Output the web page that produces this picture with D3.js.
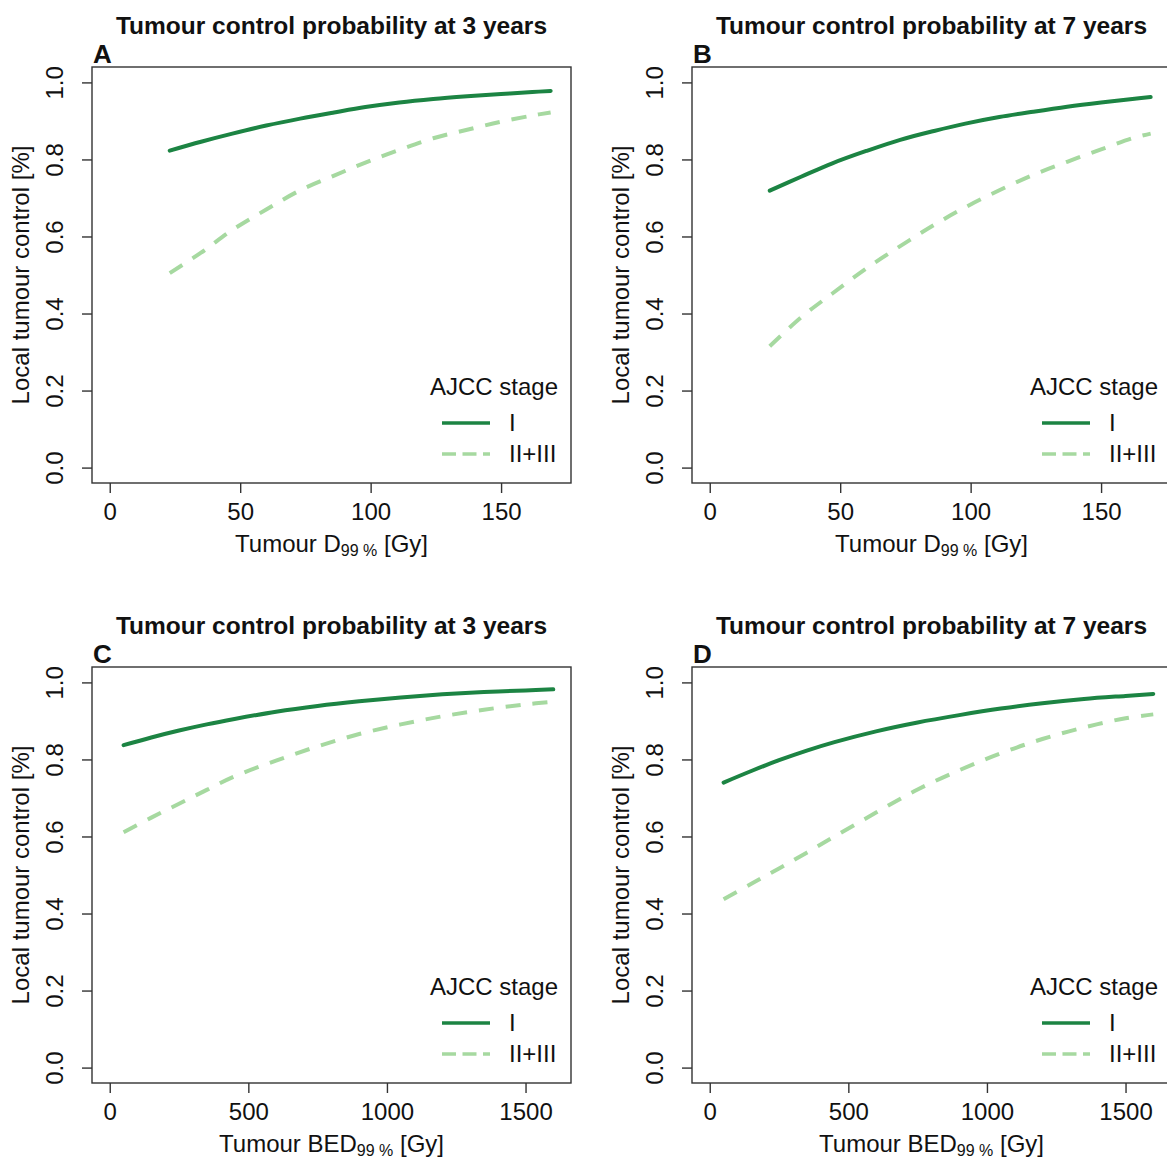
<!DOCTYPE html>
<html>
<head>
<meta charset="utf-8">
<script src="https://cdn.jsdelivr.net/npm/d3@7"></script>
<style>
body { margin: 0; background: #fff; }
svg text { font-family: "Liberation Sans", Arial, sans-serif; fill: #111; }
</style>
</head>
<body>
<script>
var doseX = [23, 35, 47, 60, 73, 86, 98, 111, 124, 137, 150, 162, 169];
var bedX = [50, 150, 250, 350, 450, 600, 750, 900, 1050, 1200, 1350, 1500, 1600];

// panel A: D99, 3 years
var doseStageI_3y   = [0.823, 0.846, 0.867, 0.888, 0.906, 0.922, 0.936, 0.948, 0.957, 0.964, 0.970, 0.975, 0.978];
var doseStageII_3y  = [0.505, 0.558, 0.617, 0.670, 0.720, 0.758, 0.792, 0.825, 0.855, 0.877, 0.898, 0.914, 0.922];
// panel B: D99, 7 years
var doseStageI_7y   = [0.719, 0.755, 0.790, 0.822, 0.851, 0.874, 0.893, 0.910, 0.924, 0.937, 0.948, 0.957, 0.962];
var doseStageII_7y  = [0.315, 0.390, 0.452, 0.517, 0.575, 0.630, 0.676, 0.720, 0.760, 0.794, 0.826, 0.855, 0.867];
// panel C: BED99, 3 years
var bedStageI_3y    = [0.837, 0.857, 0.875, 0.891, 0.905, 0.924, 0.939, 0.951, 0.961, 0.969, 0.975, 0.979, 0.982];
var bedStageII_3y   = [0.611, 0.649, 0.685, 0.721, 0.756, 0.797, 0.834, 0.866, 0.891, 0.912, 0.929, 0.943, 0.950];
// panel D: BED99, 7 years
var bedStageI_7y    = [0.740, 0.770, 0.798, 0.823, 0.845, 0.873, 0.896, 0.915, 0.932, 0.946, 0.957, 0.965, 0.970];
var bedStageII_7y   = [0.437, 0.477, 0.517, 0.558, 0.600, 0.662, 0.722, 0.772, 0.816, 0.853, 0.883, 0.907, 0.917];

var stages = ["I", "II+III"];
var doseTicks = [0, 50, 100, 150];
var bedTicks = [0, 500, 1000, 1500];
var yTicks = [0, 0.2, 0.4, 0.6, 0.8, 1.0];

var width = 1167, height = 1160;
var box = {left: 92, right: 571, top: 67, bottom: 483};
var darkGreen = "#1c8443", lightGreen = "#a6d9a0";

var svg = d3.select("body").append("svg").attr("width", width).attr("height", height);

var panels = [
  {dx: 0,   dy: 0,   letter: "A", title: "Tumour control probability at 3 years", xs: doseX, xlim: [0, 170],  ticks: doseTicks, sub: "D",   s1: doseStageI_3y, s2: doseStageII_3y},
  {dx: 600, dy: 0,   letter: "B", title: "Tumour control probability at 7 years", xs: doseX, xlim: [0, 170],  ticks: doseTicks, sub: "D",   s1: doseStageI_7y, s2: doseStageII_7y},
  {dx: 0,   dy: 600, letter: "C", title: "Tumour control probability at 3 years", xs: bedX,  xlim: [0, 1600], ticks: bedTicks,  sub: "BED", s1: bedStageI_3y,  s2: bedStageII_3y},
  {dx: 600, dy: 600, letter: "D", title: "Tumour control probability at 7 years", xs: bedX,  xlim: [0, 1600], ticks: bedTicks,  sub: "BED", s1: bedStageI_7y,  s2: bedStageII_7y}
];

panels.forEach(function(p) {
  var g = svg.append("g").attr("transform", "translate(" + p.dx + "," + p.dy + ")");

  // R style 4% axis extension
  var ext = (p.xlim[1] - p.xlim[0]) * 0.04;
  var x = d3.scaleLinear().domain([p.xlim[0] - ext, p.xlim[1] + ext]).range([box.left, box.right]);
  var y = d3.scaleLinear().domain([-0.04, 1.04]).range([box.bottom, box.top]);

  // curves
  var line = d3.line()
      .x(function(d) { return x(d[0]); })
      .y(function(d) { return y(d[1]); })
      .curve(d3.curveCatmullRom);

  g.append("path")
      .attr("d", line(d3.zip(p.xs, p.s2)))
      .attr("fill", "none").attr("stroke", lightGreen)
      .attr("stroke-width", 4).attr("stroke-dasharray", "15,12");
  g.append("path")
      .attr("d", line(d3.zip(p.xs, p.s1)))
      .attr("fill", "none").attr("stroke", darkGreen)
      .attr("stroke-width", 4).attr("stroke-linecap", "round");

  // box
  g.append("rect")
      .attr("x", box.left).attr("y", box.top)
      .attr("width", box.right - box.left).attr("height", box.bottom - box.top)
      .attr("fill", "none").attr("stroke", "#333").attr("stroke-width", 1.4);

  // axes
  var xAxis = g.append("g").attr("transform", "translate(0," + box.bottom + ")")
      .call(d3.axisBottom(x).tickValues(p.ticks).tickSize(10).tickFormat(d3.format("d")));
  xAxis.select(".domain").remove();
  xAxis.selectAll("line").attr("stroke", "#333").attr("stroke-width", 1.4);
  xAxis.selectAll("text").attr("y", 37).attr("dy", 0)
      .style("font-size", "24px").attr("fill", "#111");

  var yAxis = g.append("g").attr("transform", "translate(" + box.left + ",0)")
      .call(d3.axisLeft(y).tickValues(yTicks).tickSize(10).tickFormat(d3.format(".1f")));
  yAxis.select(".domain").remove();
  yAxis.selectAll("line").attr("stroke", "#333").attr("stroke-width", 1.4);
  yAxis.selectAll("text").attr("x", 0).attr("dy", 0)
      .attr("text-anchor", "middle")
      .attr("transform", "translate(-29,0) rotate(-90)")
      .style("font-size", "24px").attr("fill", "#111");

  // labels
  g.append("text")
      .attr("x", (box.left + box.right) / 2).attr("y", 34)
      .attr("text-anchor", "middle")
      .style("font-size", "24.5px").style("font-weight", "bold")
      .text(p.title);

  g.append("text")
      .attr("x", 93).attr("y", 63)
      .style("font-size", "26px").style("font-weight", "bold")
      .text(p.letter);

  g.append("text")
      .attr("transform", "translate(29," + (box.top + box.bottom) / 2 + ") rotate(-90)")
      .attr("text-anchor", "middle")
      .style("font-size", "24px")
      .text("Local tumour control [%]");

  var xl = g.append("text")
      .attr("x", (box.left + box.right) / 2).attr("y", 552)
      .attr("text-anchor", "middle")
      .style("font-size", "24px");
  xl.append("tspan").text("Tumour " + p.sub);
  xl.append("tspan").attr("dy", 4).style("font-size", "16px").text("99 %");
  xl.append("tspan").attr("dy", -4).text(" [Gy]");

  // legend
  g.append("text")
      .attr("x", 494).attr("y", 395)
      .attr("text-anchor", "middle")
      .style("font-size", "24px")
      .text("AJCC stage");

  var legend = g.selectAll(".leg").data(stages).enter().append("g")
      .attr("transform", function(d, i) { return "translate(0," + (423 + i * 31) + ")"; });
  legend.append("line")
      .attr("x1", 442).attr("x2", 490)
      .attr("stroke", function(d, i) { return i === 0 ? darkGreen : lightGreen; })
      .attr("stroke-width", 3.5)
      .attr("stroke-dasharray", function(d, i) { return i === 0 ? null : "14,6.5"; });
  legend.append("text")
      .attr("x", 509).attr("y", 8)
      .style("font-size", "24px")
      .text(function(d) { return d; });
});
</script>
</body>
</html>
